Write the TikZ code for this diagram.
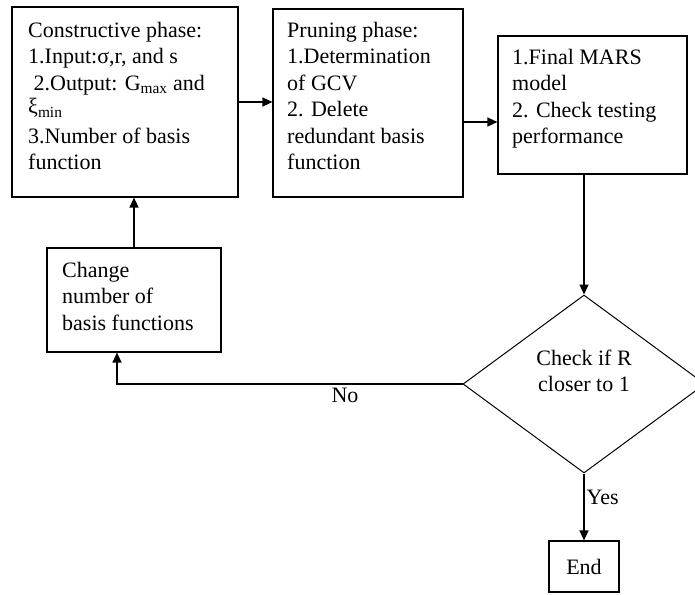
\documentclass[tikz,border=0pt]{standalone}
\usepackage{fontspec}
\setmainfont{Liberation Serif}
\usetikzlibrary{shapes.geometric,arrows.meta}
\begin{document}
\begin{tikzpicture}[x=1pt,y=-1pt,
  box/.style={draw,line width=1.2pt,inner sep=0pt},
  txt/.style={anchor=north west,align=left,inner sep=0pt,font=\fontsize{22}{26.5}\selectfont},
  arr/.style={line width=1.3pt,-{Triangle[length=10pt,width=9pt]}},
  lbl/.style={font=\fontsize{22}{26.5}\selectfont}]
\useasboundingbox (0,0) rectangle (695,594);
% boxes
\node[box,minimum width=226pt,minimum height=190pt] (constr) at (125,102) {};
\node[box,minimum width=190pt,minimum height=188pt] (prune) at (368,103) {};
\node[box,minimum width=189pt,minimum height=138pt] (final) at (592.5,105) {};
\node[box,minimum width=174pt,minimum height=104pt] (change) at (134,300) {};
\node[draw,diamond,line width=1pt,inner sep=0pt,minimum width=242pt,minimum height=178pt] (check) at (584,384) {};
\node[box,lbl,minimum width=70pt,minimum height=51pt] (end) at (584,566.5) {End};
% texts
\node[txt] (constr-t) at (28,22) {Constructive phase:\\1.Input:σ,r, and s\\\ 2.Output: G\textsubscript{max} and\\[-3pt]ξ\textsubscript{min}\\[3pt]3.Number of basis\\function};
\node[txt] (prune-t) at (287,22) {Pruning phase:\\1.Determination\\of GCV\\2. Delete\\redundant basis\\function};
\node[txt] (final-t) at (512,49) {1.Final MARS\\model\\2. Check testing\\performance};
\node[txt] (change-t) at (62,262) {Change\\number of\\basis functions};
\node[lbl,align=center,inner sep=0pt] (check-t) at (584,371) {Check if R\\closer to 1};
% connectors
\coordinate (p2f) at ([yshift=-19pt]prune.east);
\coordinate (nob) at ([xshift=-17pt]change.south);
\draw[arr] (constr.east) -- (constr.east -| prune.west);
\draw[arr] (p2f) -- (p2f -| final.west);
\draw[arr] (final.south -| check.north) -- (check.north);
\draw[arr] (change.north) -- (change.north |- constr.south);
\draw[arr] (check.west) -| node[lbl,pos=0.17,below] {No} (nob);
\draw[arr] (check.south) -- node[lbl,pos=0.35,right,inner sep=2pt] {Yes} (end);
\end{tikzpicture}
\end{document}
